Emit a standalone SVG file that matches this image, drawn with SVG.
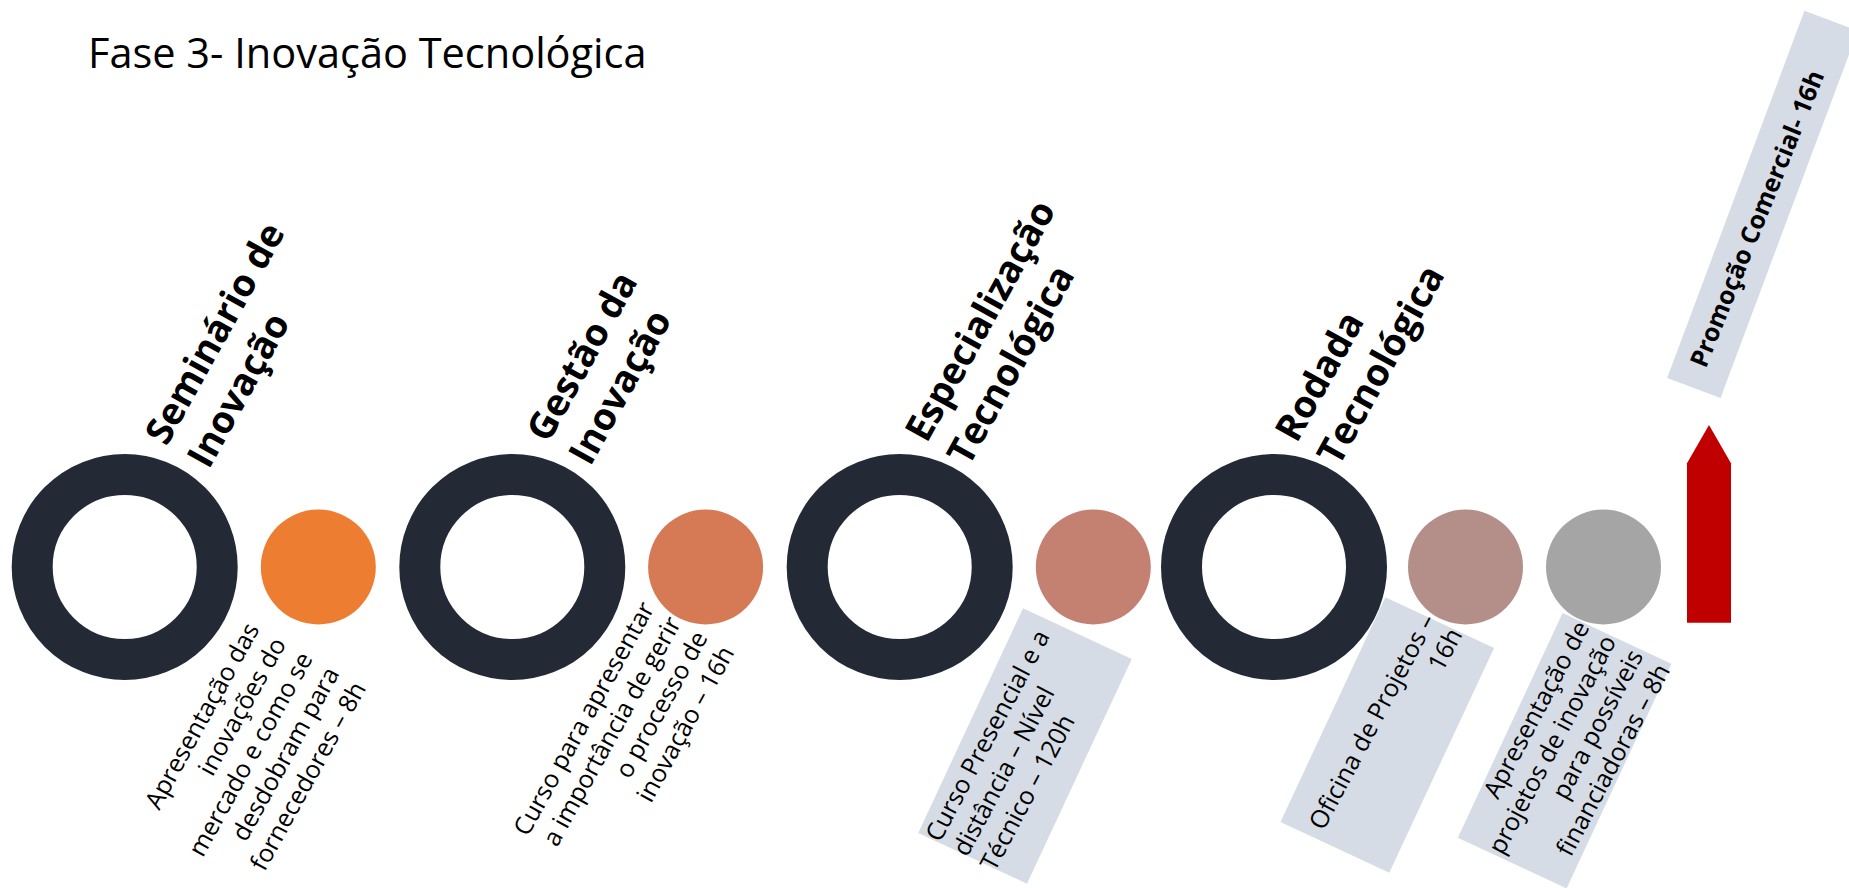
<svg xmlns="http://www.w3.org/2000/svg" width="1849" height="888" viewBox="0 0 1849 888">
<style>
.ring{fill:none;stroke:#242A35;stroke-width:41}
.dot{stroke:none}
.box{fill:#D6DCE5}
.lbl{font-family:"Open Sans","Liberation Sans",sans-serif;font-weight:700;font-size:37.5px;fill:#000}
.desc{font-family:"Open Sans","Liberation Sans",sans-serif;font-size:25px;fill:#000}
.title{font-family:"Open Sans","Liberation Sans",sans-serif;font-size:41.5px;fill:#000}
</style>
<rect width="1849" height="888" fill="#fff"/>
<text class="title" x="88" y="68">Fase 3- Inovação Tecnológica</text>
<g id="connectors"></g>
<g id="n1">
<circle class="ring" cx="124.7" cy="567" r="92.5"/>
<g transform="translate(166.7,447) rotate(-61)"><text class="lbl" x="0" y="0">Seminário de</text><text class="lbl" x="0" y="48">Inovação</text></g>
</g>
<g id="d1">
<circle class="dot" cx="318.3" cy="567" r="57.5" fill="#ED7D31"/>
<g transform="translate(260,629) rotate(-61)" text-anchor="end"><text class="desc" y="0">Apresentação das</text><text class="desc" y="30.5">inovações do</text><text class="desc" y="61">mercado e como se</text><text class="desc" y="91.5">desdobram para</text><text class="desc" y="122">fornecedores – 8h</text></g>
</g>
<g id="n2">
<circle class="ring" cx="512.3" cy="567" r="92.5"/>
<g transform="translate(548.3,444) rotate(-61)"><text class="lbl" x="0" y="0">Gestão da</text><text class="lbl" x="0" y="48">Inovação</text></g>
</g>
<g id="d2">
<circle class="dot" cx="705.6" cy="567" r="57.5" fill="#D67A55"/>
<g transform="translate(655,608) rotate(-61)" text-anchor="end"><text class="desc" y="0">Curso para apresentar</text><text class="desc" y="30.5">a importância de gerir</text><text class="desc" y="61">o processo de</text><text class="desc" y="91.5">inovação – 16h</text></g>
</g>
<g id="n3">
<circle class="ring" cx="899.7" cy="567" r="92.5"/>
<g transform="translate(926.7,444) rotate(-61)"><text class="lbl" x="0" y="0">Especialização</text><text class="lbl" x="0" y="48">Tecnológica</text></g>
</g>
<g id="d3">
<circle class="dot" cx="1093.3" cy="567" r="57.5" fill="#C48172"/>
<rect class="box" x="-124" y="-60" width="248" height="120" transform="translate(1025,746) rotate(-65)"/>
<g transform="translate(940,843.3) rotate(-62)"><text class="desc" y="0">Curso Presencial e a</text><text class="desc" y="31">distância – Nível</text><text class="desc" y="62">Técnico – 120h</text></g>
</g>
<g id="n4">
<circle class="ring" cx="1274" cy="567" r="92.5"/>
<g transform="translate(1296.7,444) rotate(-61)"><text class="lbl" x="0" y="0">Rodada</text><text class="lbl" x="0" y="48">Tecnológica</text></g>
</g>
<g id="d4">
<circle class="dot" cx="1465.5" cy="567" r="57.5" fill="#B48F89"/>
<rect class="box" x="-124" y="-60" width="248" height="120" transform="translate(1387.3,735) rotate(-65)"/>
<g transform="translate(1436,620) rotate(-62)" text-anchor="end"><text class="desc" y="0">Oficina de Projetos –</text><text class="desc" y="30.5">16h</text></g>
</g>
<g id="d5">
<circle class="dot" cx="1603.5" cy="567" r="57.5" fill="#A5A5A5"/>
<rect class="box" x="-124" y="-60" width="248" height="120" transform="translate(1564.6,750.7) rotate(-65)"/>
<g transform="translate(1590,627) rotate(-62)" text-anchor="end"><text class="desc" y="0">Apresentação de</text><text class="desc" y="30.5">projetos de inovação</text><text class="desc" y="61">para possíveis</text><text class="desc" y="91.5">financiadoras – 8h</text></g>
</g>
<g id="arrow">
<polygon points="1687,463.3 1709,425 1731,463.3 1731,622.7 1687,622.7" fill="#C00000"/>
</g>
<g id="promo">
<rect class="box" x="-196" y="-28.5" width="392" height="57" transform="translate(1762.5,204.4) rotate(-69.5)"/>
<g transform="translate(1762.5,204.4) rotate(-68)"><text class="lbl" style="font-size:25px" x="-174" y="9">Promoção Comercial- 16h</text></g>
</g>
</svg>
